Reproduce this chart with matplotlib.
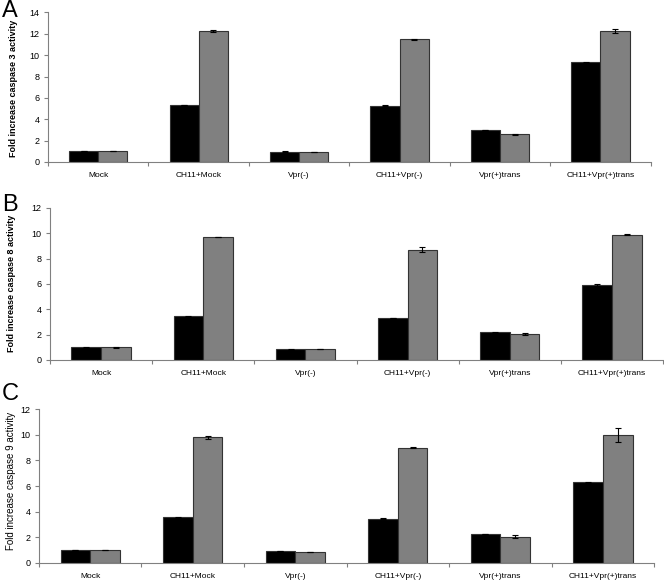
import numpy as np
import matplotlib
matplotlib.use('Agg')
import matplotlib.pyplot as plt

plt.rcParams['font.family'] = ['Liberation Sans', 'DejaVu Sans']

categories = ['Mock', 'CH11+Mock', 'Vpr(-)', 'CH11+Vpr(-)', 'Vpr(+)trans', 'CH11+Vpr(+)trans']

casp3_black = [1.0, 5.35, 0.95, 5.25, 3.0, 9.35]
casp3_grey = [1.0, 12.25, 0.93, 11.5, 2.6, 12.25]
casp3_black_err = [0.0, 0.0, 0.05, 0.05, 0.0, 0.05]
casp3_grey_err = [0.0, 0.08, 0.03, 0.05, 0.05, 0.18]

casp8_black = [1.0, 3.45, 0.85, 3.32, 2.18, 5.9]
casp8_grey = [1.0, 9.7, 0.88, 8.72, 2.05, 9.9]
casp8_black_err = [0.05, 0.04, 0.03, 0.02, 0.04, 0.08]
casp8_grey_err = [0.04, 0.0, 0.02, 0.2, 0.05, 0.02]

casp9_black = [1.03, 3.56, 0.92, 3.45, 2.26, 6.28]
casp9_grey = [1.01, 9.8, 0.86, 9.0, 2.06, 9.98]
casp9_black_err = [0.0, 0.03, 0.02, 0.02, 0.03, 0.03]
casp9_grey_err = [0.02, 0.1, 0.03, 0.06, 0.1, 0.55]

W, H = 664, 581
# letter, ylabel, data..., ymax, axes rect, ylabel (x px, y px), ylabel weight, letter top px
panels = [
    ('A', 'Fold increase caspase 3 activity', casp3_black, casp3_grey, casp3_black_err, casp3_grey_err, 14,
     [0.0723, 0.7212, 0.9077, 0.2573], (18, 88), 'bold', 0),
    ('B', 'Fold increase caspase 8 activity', casp8_black, casp8_grey, casp8_black_err, casp8_grey_err, 12,
     [0.0753, 0.3804, 0.9232, 0.2616], (16, 283), 'bold', 194),
    ('C', 'Fold increase caspase 9 activity', casp9_black, casp9_grey, casp9_black_err, casp9_grey_err, 12,
     [0.0587, 0.0310, 0.9263, 0.2650], (16.5, 481), 'normal', 383),
]

fig = plt.figure(figsize=(W / 100, H / 100), dpi=100)
x = np.arange(len(categories))
w = 0.29
axcol = '#808080'
ekw = dict(ecolor='black', capsize=2.5, elinewidth=0.8, capthick=0.8)

for letter, ylab, blk, gry, blk_e, gry_e, ymax, rect, lpos, lw, ltop in panels:
    ax = fig.add_axes(rect)
    ax.bar(x - w / 2, blk, w, color='black', edgecolor='#333333', linewidth=0.8, yerr=blk_e, error_kw=ekw)
    ax.bar(x + w / 2, gry, w, color='#808080', edgecolor='#333333', linewidth=0.8, yerr=gry_e, error_kw=ekw)
    ax.set_xlim(-0.5, len(categories) - 0.5)
    ax.set_ylim(0, ymax)
    ax.set_yticks(np.arange(0, ymax + 1, 2))
    ax.set_xticks(np.arange(-0.5, len(categories), 1.0))
    ax.set_xticks(x, minor=True)
    ax.set_xticklabels([])
    ax.set_xticklabels(categories, minor=True)
    ax.tick_params(axis='x', which='minor', length=0, labelsize=6, pad=7.5)
    ax.tick_params(axis='x', which='major', length=3, color=axcol, width=0.8)
    ax.tick_params(axis='y', length=3, color=axcol, width=0.8, labelsize=6.5, pad=3)
    for s in ['top', 'right']:
        ax.spines[s].set_visible(False)
    for s in ['left', 'bottom']:
        ax.spines[s].set_color(axcol)
        ax.spines[s].set_linewidth(0.8)
    ax.set_ylabel(ylab, fontsize=6.5 if lw == 'bold' else 7, fontweight=lw)
    ax.yaxis.set_label_coords(lpos[0] / W, 1 - lpos[1] / H, transform=fig.transFigure)
    fig.text(0.003, 1 - ltop / H, letter, fontsize=17, va='top', ha='left')

fig.savefig('out.png', dpi=100)
